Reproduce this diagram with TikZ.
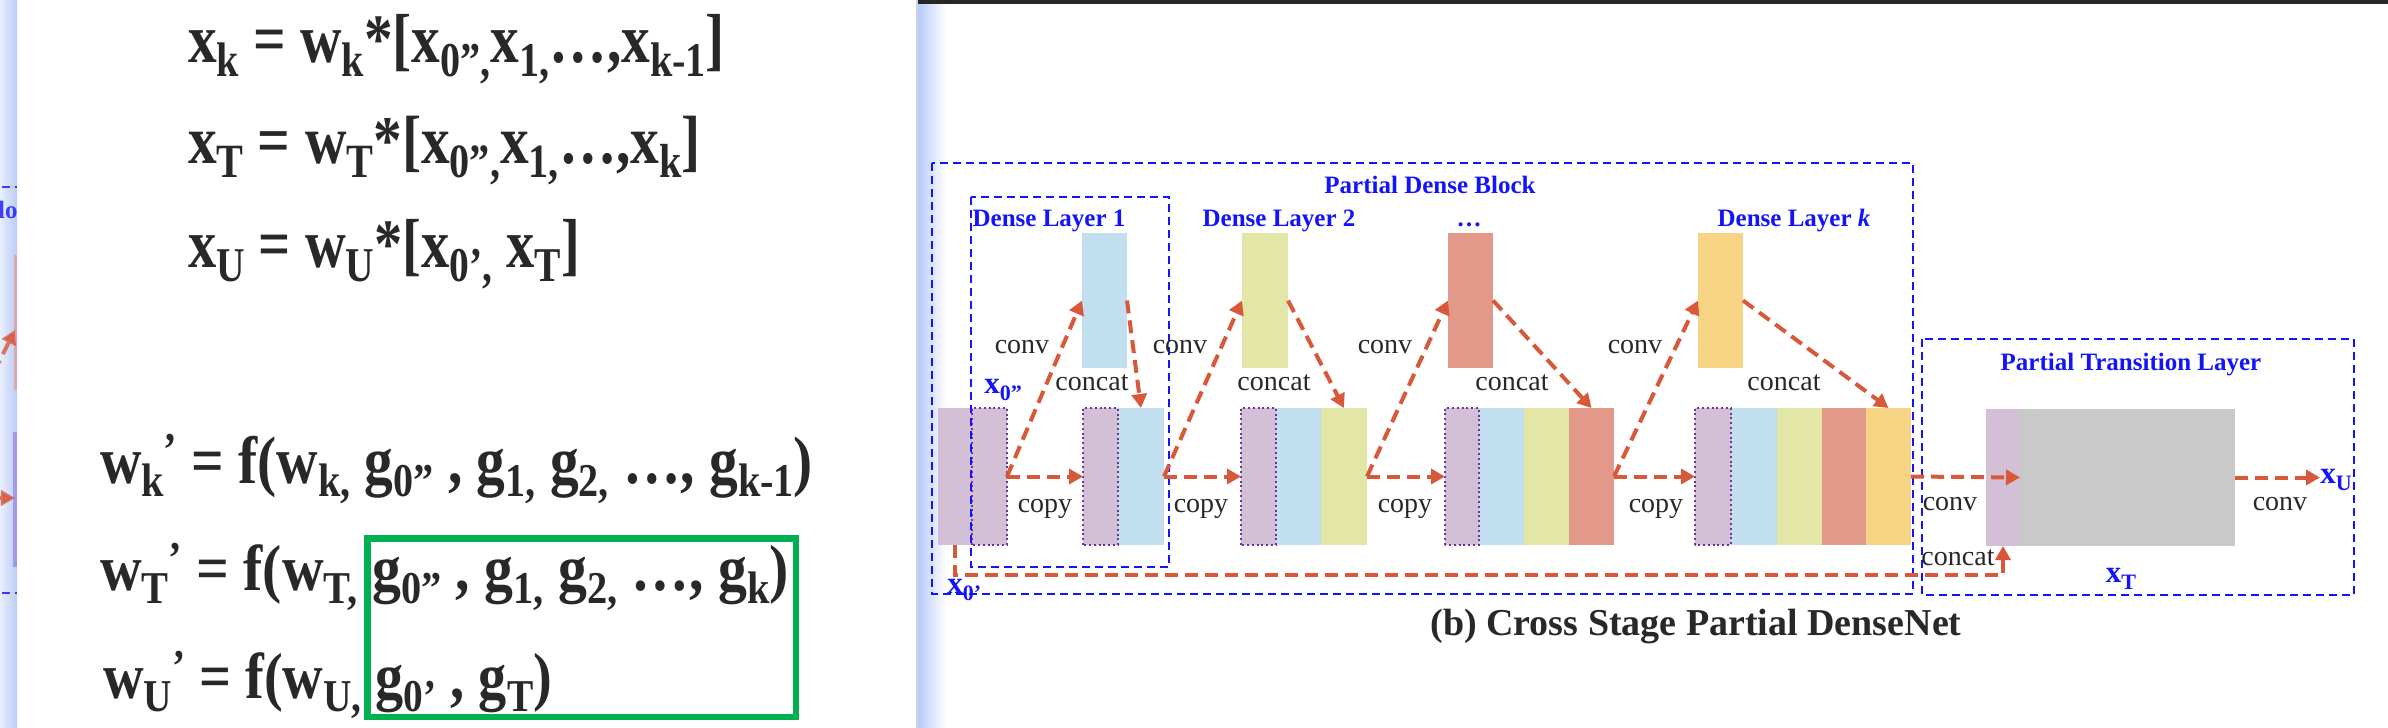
\documentclass[tikz,border=0pt]{standalone}
\usepackage{fontspec}
\setmainfont{Liberation Serif}
\usepackage{graphicx}
\usetikzlibrary{arrows.meta,fit,calc}
\definecolor{cpur}{RGB}{211,192,215}
\definecolor{cdot}{RGB}{112,48,160}
\definecolor{cblu}{RGB}{194,223,240}
\definecolor{cyg}{RGB}{226,231,168}
\definecolor{csal}{RGB}{226,153,138}
\definecolor{corg}{RGB}{246,212,132}
\definecolor{cgry}{RGB}{201,201,201}
\definecolor{cred}{RGB}{216,88,58}
\definecolor{cbl}{RGB}{20,20,250}
\definecolor{ctxt}{RGB}{40,40,40}
\definecolor{cgreen}{RGB}{0,176,80}
\definecolor{cstripA}{RGB}{232,238,252}
\definecolor{cstripB}{RGB}{188,204,248}
\definecolor{cstripC}{RGB}{182,202,250}
\newcommand\eqfont{\fontsize{30pt}{36pt}\selectfont\bfseries}
\newcommand\sbx[1]{\raisebox{-6pt}[0pt][6pt]{\fontsize{21pt}{25pt}\selectfont #1}}
\newcommand\spr{\raisebox{8pt}{\fontsize{21pt}{25pt}\selectfont ’}}
\newcommand\bsub[1]{\raisebox{-3.5pt}{\fontsize{11pt}{12pt}\selectfont #1}}
\begin{document}
\begin{tikzpicture}[x=0.5pt,y=-0.5pt,
  blk/.style={inner sep=0pt, outer sep=0pt, draw=none},
  dotb/.style={draw=cdot, line width=1pt, dash pattern=on 1pt off 1.4pt},
  arr/.style={draw=cred, line width=2pt, dash pattern=on 6.5pt off 3.5pt, -{Triangle[length=7pt,width=7.5pt]}},
  bbox/.style={draw=cbl, line width=1pt, dash pattern=on 4pt off 2.5pt},
  blab/.style={text=cbl, font=\fontsize{12.5pt}{14pt}\selectfont\bfseries, inner sep=0pt, anchor=base},
  bmath/.style={text=cbl, font=\fontsize{15.5pt}{17pt}\selectfont\bfseries, inner sep=0pt},
  klab/.style={text=ctxt, font=\fontsize{14pt}{16pt}\selectfont, inner sep=0pt, anchor=base},
  eqn/.style={anchor=north west, inner sep=0pt, outer sep=0pt, text=ctxt}]
\useasboundingbox (0,0) rectangle (2388,728);
\fill[white] (0,0) rectangle (2388,728);
% ---- window edges ----
\shade[left color=cstripA, right color=cstripB] (0,0) rectangle (17,728);
\shade[left color=cstripC, right color=white] (918,0) rectangle (946,728);
\draw[gray!35, line width=0.8pt] (917,0) -- (917,728);
\fill[black!85] (918,0) rectangle (2388,3.5);
% remnants at the far left
\begin{scope}
\clip (0,0) rectangle (17,728);
\begin{scope}[opacity=0.8]
\draw[bbox] (-50,187) -- (17,187);
\draw[bbox] (-50,593) -- (17,593);
\node[blab, anchor=base east] (rem) at (18,218) {lo};
\fill[csal!80!cpur] (14,255) rectangle (17,390);
\fill[cbl!30!cpur] (13,432) rectangle (17,567);
\coordinate (ra) at (-6,372);
\coordinate (rb) at (15,330);
\coordinate (rc) at (-12,498);
\coordinate (rd) at (15,498);
\draw[arr] (ra) -- (rb);
\draw[arr] (rc) -- (rd);
\end{scope}
\end{scope}
% ---- left panel equations ----
\node[eqn] (eqA) at (188,14) {\resizebox*{268.5pt}{31pt}{\eqfont x\sbx{k} = w\sbx{k}*[x\sbx{0”,}x\sbx{1,}…,x\sbx{k-1}]}};
\node[eqn] (eqB) at (188,116) {\resizebox*{256.5pt}{30.5pt}{\eqfont x\sbx{T} = w\sbx{T}*[x\sbx{0”,}x\sbx{1,}…,x\sbx{k}]}};
\node[eqn] (eqC) at (188,219) {\resizebox*{196pt}{31pt}{\eqfont x\sbx{U} = w\sbx{U}*[x\sbx{0’,} x\sbx{T}]}};
\node[eqn] (eqD) at (100,434) {\resizebox*{356.5pt}{32pt}{\eqfont w\sbx{k}\spr{} = f(w\sbx{k,} g\sbx{0”} , g\sbx{1,} g\sbx{2,} …, g\sbx{k-1})}};
\node[eqn] (eqE) at (100,543) {\resizebox*{344.5pt}{31pt}{\eqfont w\sbx{T}\spr{} = f(w\sbx{T,} g\sbx{0”} , g\sbx{1,} g\sbx{2,} …, g\sbx{k})}};
\node[eqn] (eqF) at (103,651) {\resizebox*{224.5pt}{31pt}{\eqfont w\sbx{U}\spr{} = f(w\sbx{U,} g\sbx{0’} , g\sbx{T})}};
\draw[cgreen, line width=3.3pt] (367.5,538.5) rectangle (796,717);
% ---- right panel: blocks ----
\node[blk, fill=cpur, fit={(938,408) (972,545)}] (B0a) {};
\node[blk, fill=cpur, fit={(972,408) (1007,545)}] (B0d) {};
\node[blk, fill=cpur, fit={(1083,408) (1118,545)}] (B1d) {};
\node[blk, fill=cblu, fit={(1118,408) (1164,545)}] (B1b) {};
\node[blk, fill=cpur, fit={(1241,408) (1276,545)}] (B2d) {};
\node[blk, fill=cblu, fit={(1276,408) (1321,545)}] (B2b) {};
\node[blk, fill=cyg, fit={(1321,408) (1367,545)}] (B2y) {};
\node[blk, fill=cpur, fit={(1445,408) (1479,545)}] (B3d) {};
\node[blk, fill=cblu, fit={(1479,408) (1524,545)}] (B3b) {};
\node[blk, fill=cyg, fit={(1524,408) (1569,545)}] (B3y) {};
\node[blk, fill=csal, fit={(1569,408) (1614,545)}] (B3s) {};
\node[blk, fill=cpur, fit={(1695,408) (1731,545)}] (B4d) {};
\node[blk, fill=cblu, fit={(1731,408) (1777,545)}] (B4b) {};
\node[blk, fill=cyg, fit={(1777,408) (1822,545)}] (B4y) {};
\node[blk, fill=csal, fit={(1822,408) (1866,545)}] (B4s) {};
\node[blk, fill=corg, fit={(1866,408) (1911,545)}] (B4o) {};
\node[blk, fill=cblu, fit={(1082,233) (1127,368)}] (T1) {};
\node[blk, fill=cyg, fit={(1242,233) (1288,368)}] (T2) {};
\node[blk, fill=csal, fit={(1448,233) (1493,368)}] (T3) {};
\node[blk, fill=corg, fit={(1698,233) (1743,368)}] (T4) {};
\node[blk, fill=cpur, fit={(1986,409) (2020,546)}] (Pp) {};
\node[blk, fill=cgry, fit={(2020,409) (2235,546)}] (Pg) {};
\foreach \n in {B0d,B1d,B2d,B3d,B4d}{\draw[dotb] (\n.south west) rectangle (\n.north east);}
% ---- dashed boxes ----
\draw[bbox] (932,163) rectangle (1913,594);
\draw[bbox] (971,197) rectangle (1169,567);
\draw[bbox] (1922,339) rectangle (2354,595);
% ---- labels ----
\node[blab] (lPDB) at (1430,193) {Partial Dense Block};
\node[blab] (lDL1) at (1049,226) {Dense Layer 1};
\node[blab] (lDL2) at (1279,226) {Dense Layer 2};
\node[blab] (lDots) at (1469,226) {…};
\node[blab] (lDLk) at (1794,226) {Dense Layer \textit{k}};
\node[blab] (lPTL) at (2131,370) {Partial Transition Layer};
\node[bmath, anchor=base west] (x0pp) at (984,393) {x\bsub{0”}};
\node[bmath, anchor=base west] (x0p) at (947,593) {x\bsub{0’}};
\node[bmath, anchor=base west] (xU) at (2320,483) {x\bsub{U}};
\node[bmath, anchor=base] (xT) at (2121,582) {x\bsub{T}};
\node[klab] (cv1) at (1022,353) {conv};
\node[klab] (cv2) at (1180,353) {conv};
\node[klab] (cv3) at (1385,353) {conv};
\node[klab] (cv4) at (1635,353) {conv};
\node[klab] (cc1) at (1092,390) {concat};
\node[klab] (cc2) at (1274,390) {concat};
\node[klab] (cc3) at (1512,390) {concat};
\node[klab] (cc4) at (1784,390) {concat};
\node[klab] (cp1) at (1045,512) {copy};
\node[klab] (cp2) at (1201,512) {copy};
\node[klab] (cp3) at (1405,512) {copy};
\node[klab] (cp4) at (1656,512) {copy};
\node[klab] (cv5) at (1950,510) {conv};
\node[klab] (cv6) at (2280,510) {conv};
\node[klab] (cc5) at (1958,565) {concat};
\node[text=ctxt, font=\fontsize{19pt}{22pt}\selectfont\bfseries, inner sep=0pt, anchor=base] (title) at (1696,635) {(b) Cross Stage Partial DenseNet};
% ---- arrows ----
\draw[arr] (B0d.east) -- (B1d.west);
\draw[arr] (B1b.east) -- (B2d.west);
\draw[arr] (B2y.east) -- (B3d.west);
\draw[arr] (B3s.east) -- (B4d.west);
\draw[arr] (B0d.east) -- (T1.west);
\draw[arr] (B1b.east) -- (T2.west);
\draw[arr] (B2y.east) -- (T3.west);
\draw[arr] (B3s.east) -- (T4.west);
\draw[arr] (T1.east) -- (B1b.north);
\draw[arr] (T2.east) -- (B2y.north);
\draw[arr] (T3.east) -- (B3s.north);
\draw[arr] (T4.east) -- (B4o.north);
\draw[arr] (B4o.east) -- (Pp.east);
\draw[arr] (Pg.east) -- (Pg.east -| xU.west);
\draw[arr] (B0a.south) -- ++(0,30) -| (Pp.south);
\end{tikzpicture}
\end{document}
